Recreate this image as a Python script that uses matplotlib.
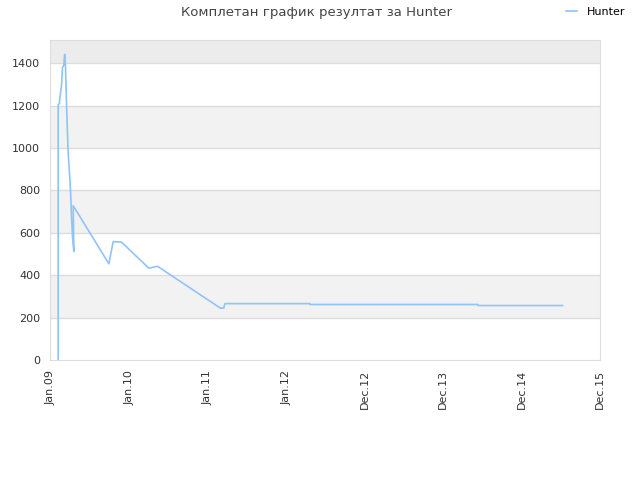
import datetime as dt
import matplotlib
matplotlib.use('Agg')
import matplotlib.pyplot as plt
import matplotlib.dates as mdates

# values (day offset from 2009-01-01, score)
days = [34, 34, 40, 41, 50, 54, 60, 64, 65, 68, 73, 80, 88, 93, 96, 101, 107,
        104, 270, 290, 329, 456, 489, 498, 790, 805, 806, 810, 1205, 1206, 1987, 1988, 2381]
scores = [0, 1206, 1210, 1230, 1300, 1380, 1391, 1442, 1442, 1387, 1206, 985, 860, 766, 671, 577, 512,
          728, 454, 559, 556, 433, 441, 441, 244, 246, 252, 266, 266, 262, 262, 257, 257]

tick_days = [0, 365, 730, 1095, 1460, 1825, 2190, 2555]
tick_labels = ['Jan.09', 'Jan.10', 'Jan.11', 'Jan.12', 'Dec.12', 'Dec.13', 'Dec.14', 'Dec.15']
y_ticks = [0, 200, 400, 600, 800, 1000, 1200, 1400]

start = dt.datetime(2009, 1, 1)
dates = [start + dt.timedelta(days=d) for d in days]
tick_dates = [start + dt.timedelta(days=d) for d in tick_days]

fig = plt.figure(figsize=(6.4, 4.8), dpi=100)
ax = fig.add_axes([50 / 640, 120 / 480, 550 / 640, 320 / 480])

ymax = 1510
# alternating bands
for i, lo in enumerate(y_ticks):
    hi = lo + 200 if lo + 200 < ymax else ymax
    if i % 2 == 1:
        ax.axhspan(lo, hi, color='#f2f2f2', zorder=0, lw=0)
ax.axhspan(1400, ymax, color='#ececec', zorder=0, lw=0)
for y in y_ticks[1:]:
    ax.axhline(y, color='#dddddd', lw=1, zorder=1)

ax.plot(dates, scores, color='#90c4f8', lw=1.2, label='Hunter', zorder=3)

ax.set_ylim(0, ymax)
ax.set_xlim(start - dt.timedelta(days=4), tick_dates[-1])
ax.set_yticks(y_ticks)
ax.set_xticks(tick_dates)
ax.set_xticklabels(tick_labels, rotation=90)
ax.tick_params(length=0, labelsize=8, colors='#333333', pad=7)
for s in ax.spines.values():
    s.set_color('#dddddd')

fig.text(0.495, 0.988, 'Комплетан график резултат за Hunter', ha='center', va='top',
         fontsize=9.5, color='#444444')
fig.legend(loc='upper right', bbox_to_anchor=(0.992, 1.007), frameon=False, fontsize=8,
           handlelength=1.0)

fig.savefig('out.png', dpi=100)
